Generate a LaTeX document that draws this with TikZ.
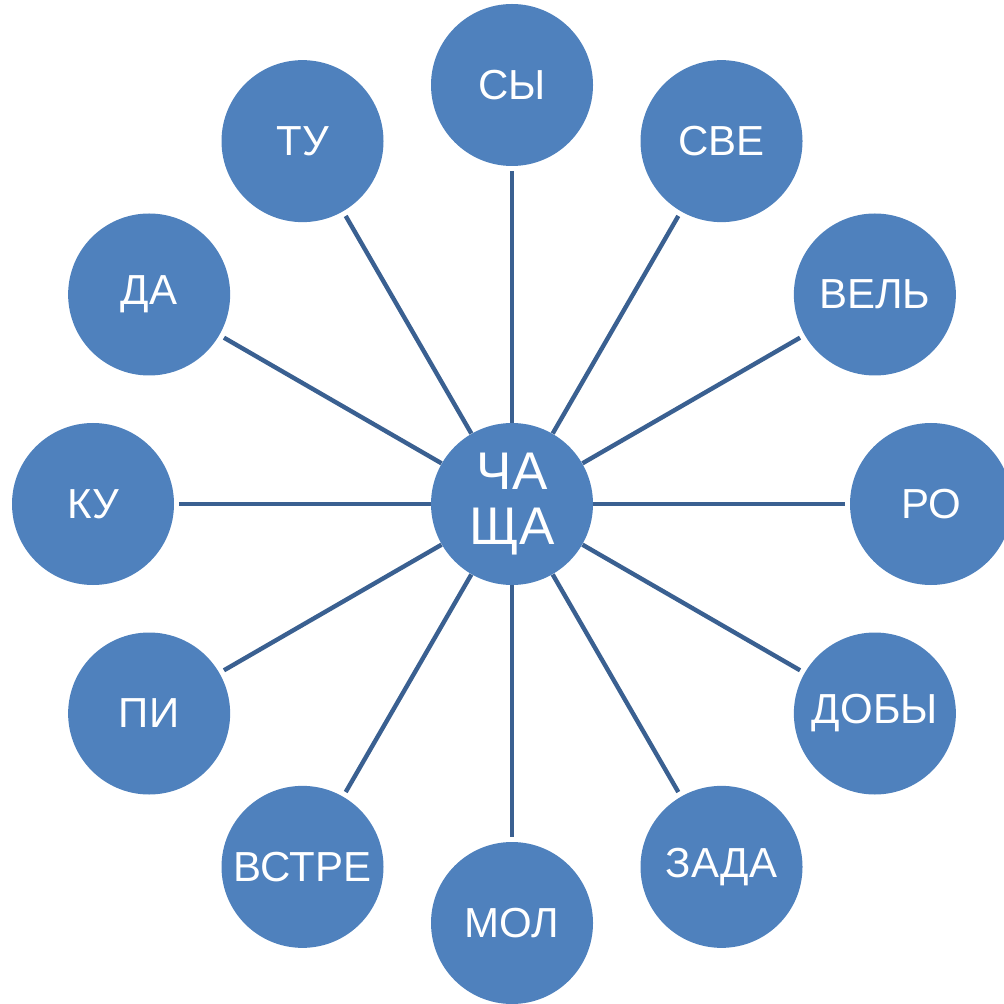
\documentclass[tikz,border=0pt]{standalone}
\usepackage{fontspec}
\setmainfont{Liberation Sans}
\usetikzlibrary{calc}
\definecolor{circfill}{HTML}{4F81BD}
\definecolor{linecol}{HTML}{3A6091}
\begin{document}
\begin{tikzpicture}[x=0.5pt,y=-0.5pt,
  petal/.style={circle,fill=circfill,draw=none,minimum size=81pt,inner sep=0pt,text=white,font=\fontsize{21}{24}\selectfont},
  hub/.style={circle,fill=circfill,draw=none,minimum size=81pt,inner sep=0pt,text=white,align=center,font=\fontsize{26.5}{27.5}\selectfont},
  spoke/.style={draw=linecol,line width=2.2pt,shorten >=2.5pt}]
\useasboundingbox (0,0) rectangle (1004,1004);
\coordinate (c) at (512,504);
\foreach \n/\ang/\t in {sy/90/СЫ, sve/60/СВЕ, vel/30/ВЕЛЬ, ro/0/РО, doby/-30/ДОБЫ, zada/-60/ЗАДА, mol/-90/МОЛ, vstre/-120/ВСТРЕ, pi/-150/ПИ, ku/180/КУ, da/150/ДА, tu/120/ТУ}{
  \node[petal] (\n) at ($(c)+({419*cos(\ang)},{-419*sin(\ang)})$) {\t};
}
\node[hub] (center) at (c) {ЧА\\ЩА};
\foreach \n in {sy,sve,vel,ro,doby,zada,mol,vstre,pi,ku,da,tu}{
  \draw[spoke] (center) -- (\n);
}
\end{tikzpicture}
\end{document}
